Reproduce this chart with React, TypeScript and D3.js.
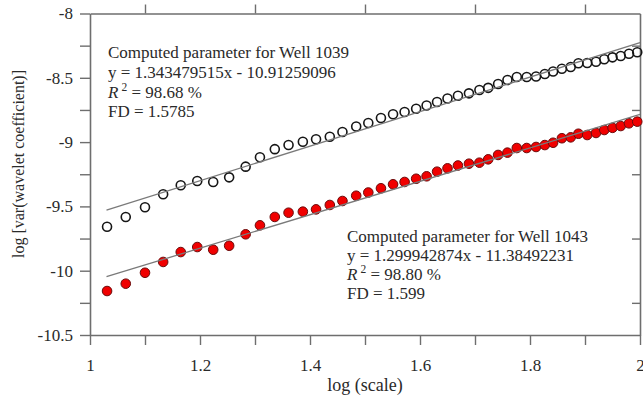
import { useRef, useEffect } from 'react';
import * as d3 from 'd3';

// log(scale) positions shared by both wells
const logScale = [
  1.031, 1.065, 1.1, 1.133, 1.165, 1.195, 1.224, 1.253, 1.283, 1.309, 1.336, 1.361, 1.387, 1.411,
  1.436, 1.459, 1.484, 1.506, 1.529, 1.551, 1.572, 1.593, 1.612, 1.631, 1.65, 1.669, 1.689, 1.708,
  1.724, 1.742, 1.759, 1.776, 1.794, 1.811, 1.827, 1.842, 1.858, 1.874, 1.888, 1.904, 1.92, 1.935,
  1.95, 1.965, 1.98, 1.995,
];

const well1039 = [
  -9.658, -9.582, -9.507, -9.406, -9.336, -9.302, -9.31, -9.274, -9.191, -9.118, -9.055, -9.023,
  -8.997, -8.978, -8.958, -8.921, -8.879, -8.851, -8.813, -8.783, -8.766, -8.741, -8.715, -8.688,
  -8.661, -8.64, -8.621, -8.595, -8.578, -8.548, -8.517, -8.494, -8.494, -8.49, -8.47, -8.451,
  -8.43, -8.416, -8.387, -8.385, -8.375, -8.356, -8.341, -8.33, -8.313, -8.301,
];

const well1043 = [
  -10.158, -10.101, -10.016, -9.932, -9.855, -9.816, -9.837, -9.806, -9.717, -9.647, -9.582, -9.549,
  -9.541, -9.523, -9.489, -9.458, -9.417, -9.392, -9.359, -9.328, -9.31, -9.285, -9.266, -9.23,
  -9.204, -9.182, -9.168, -9.16, -9.134, -9.1, -9.082, -9.046, -9.046, -9.038, -9.023, -9.005,
  -8.97, -8.963, -8.935, -8.945, -8.929, -8.906, -8.889, -8.875, -8.854, -8.841,
];

// fitted lines: [slope, intercept]
const fit1039 = [1.343479515, -10.91259096];
const fit1043 = [1.299942874, -11.38492231];
const fitRange = [1.03, 2];

const xTicks = [1, 1.1, 1.2, 1.3, 1.4, 1.5, 1.6, 1.7, 1.8, 1.9, 2];
const yTicks = [-10.5, -10.25, -10, -9.75, -9.5, -9.25, -9, -8.75, -8.5, -8.25, -8];

const FONT = '"Liberation Serif", "Times New Roman", serif';
const AXIS = '#6e6e6e';
const TEXT = '#2a2a2a';

const width = 643;
const height = 399;
const margin = { top: 13.5, right: 3, bottom: 64, left: 90 };

// plain hyphen for negatives, like the original figure
const fmt = (d: number) => String(+d.toFixed(2));

export default function App() {
  const gx = useRef<SVGGElement>(null);
  const gy = useRef<SVGGElement>(null);
  const gt = useRef<SVGGElement>(null);
  const gr = useRef<SVGGElement>(null);

  const x = d3.scaleLinear().domain([1, 2]).range([margin.left, width - margin.right]);
  const y = d3.scaleLinear().domain([-10.5, -8]).range([height - margin.bottom, margin.top]);

  const isMajorX = (d: number) => Math.abs(d * 5 - Math.round(d * 5)) < 1e-6;
  const isMajorY = (d: number) => Math.abs(d * 2 - Math.round(d * 2)) < 1e-6;

  useEffect(() => {
    const style = (sel: d3.Selection<SVGGElement, unknown, null, undefined>) => {
      sel.select('.domain').attr('stroke', AXIS).attr('stroke-width', 1.6);
      sel.selectAll('.tick line').attr('stroke', AXIS).attr('stroke-width', 1.4);
      sel
        .selectAll('.tick text')
        .attr('fill', TEXT)
        .style('font-family', FONT)
        .style('font-size', '17px');
    };

    const bx = d3.select(gx.current!);
    bx.call(
      d3
        .axisBottom(x)
        .tickValues(xTicks)
        .tickSize(10)
        .tickSizeOuter(0)
        .tickPadding(14)
        .tickFormat((d) => (isMajorX(d as number) ? fmt(d as number) : '')),
    );
    style(bx);

    const ly = d3.select(gy.current!);
    ly.call(
      d3
        .axisLeft(y)
        .tickValues(yTicks)
        .tickSize(10)
        .tickSizeOuter(0)
        .tickPadding(7)
        .tickFormat((d) => (isMajorY(d as number) ? fmt(d as number) : '')),
    );
    style(ly);

    const tx = d3.select(gt.current!);
    tx.call(
      d3
        .axisTop(x)
        .tickValues(xTicks.filter((d) => !isMajorX(d)))
        .tickSize(9)
        .tickSizeOuter(0)
        .tickFormat(() => ''),
    );
    style(tx);

    const ry = d3.select(gr.current!);
    ry.call(
      d3
        .axisRight(y)
        .tickValues(yTicks.filter((d) => !isMajorY(d)))
        .tickSize(-8)
        .tickSizeOuter(0)
        .tickFormat(() => ''),
    );
    style(ry);

    return () => {
      [bx, ly, tx, ry].forEach((s) => s.selectAll('*').remove());
    };
  }, [x, y]);

  const fitLine = (f: number[]) =>
    d3.line<number>().x((d) => x(d)).y((d) => y(f[0] * d + f[1]))(fitRange)!;

  const pts1039 = logScale.map((d, i) => [d, well1039[i]]);
  const pts1043 = logScale.map((d, i) => [d, well1043[i]]);

  return (
    <svg
      width={width}
      height={height}
      style={{ position: 'absolute', left: 0, top: 0, background: '#fff' }}
      fontFamily={FONT}
    >
      <g ref={gt} transform={`translate(0,${y(-8)})`} />
      <g ref={gr} transform={`translate(${x(2)},0)`} />
      <g ref={gx} transform={`translate(0,${y(-10.5)})`} />
      <g ref={gy} transform={`translate(${x(1)},0)`} />

      {pts1039.map((d, i) => (
        <circle
          key={`a${i}`}
          cx={x(d[0])}
          cy={y(d[1])}
          r={4.5}
          fill="none"
          stroke="#161616"
          strokeWidth={1.6}
        />
      ))}
      {pts1043.map((d, i) => (
        <circle
          key={`b${i}`}
          cx={x(d[0])}
          cy={y(d[1])}
          r={4.8}
          fill="#f00000"
          stroke="#6a0b0b"
          strokeWidth={1}
        />
      ))}

      <path d={fitLine(fit1039)} fill="none" stroke="#7a7a7a" strokeWidth={1.3} />
      <path d={fitLine(fit1043)} fill="none" stroke="#7a7a7a" strokeWidth={1.3} />

      <text fill={TEXT} fontSize={17}>
        <tspan x={108} y={58}>Computed parameter for Well 1039</tspan>
        <tspan x={108} y={78}>y = 1.343479515x - 10.91259096</tspan>
        <tspan x={108} y={98} fontStyle="italic">R</tspan>
        <tspan fontSize={11.5} dx={3} dy={-7}>2</tspan>
        <tspan dy={7}> = 98.68 %</tspan>
        <tspan x={108} y={117}>FD = 1.5785</tspan>
      </text>

      <text fill={TEXT} fontSize={17}>
        <tspan x={347} y={242}>Computed parameter for Well 1043</tspan>
        <tspan x={347} y={261}>y = 1.299942874x - 11.38492231</tspan>
        <tspan x={347} y={280} fontStyle="italic">R</tspan>
        <tspan fontSize={11.5} dx={3} dy={-7}>2</tspan>
        <tspan dy={7}> = 98.80 %</tspan>
        <tspan x={347} y={299}>FD = 1.599</tspan>
      </text>

      <text x={(x(1) + x(2)) / 2} y={391} textAnchor="middle" fontSize={18} fill={TEXT}>
        log (scale)
      </text>
      <text
        transform={`translate(24,164) rotate(-90)`}
        textAnchor="middle"
        fontSize={16}
        fill={TEXT}
      >
        log [var(wavelet coefficient)]
      </text>
    </svg>
  );
}
